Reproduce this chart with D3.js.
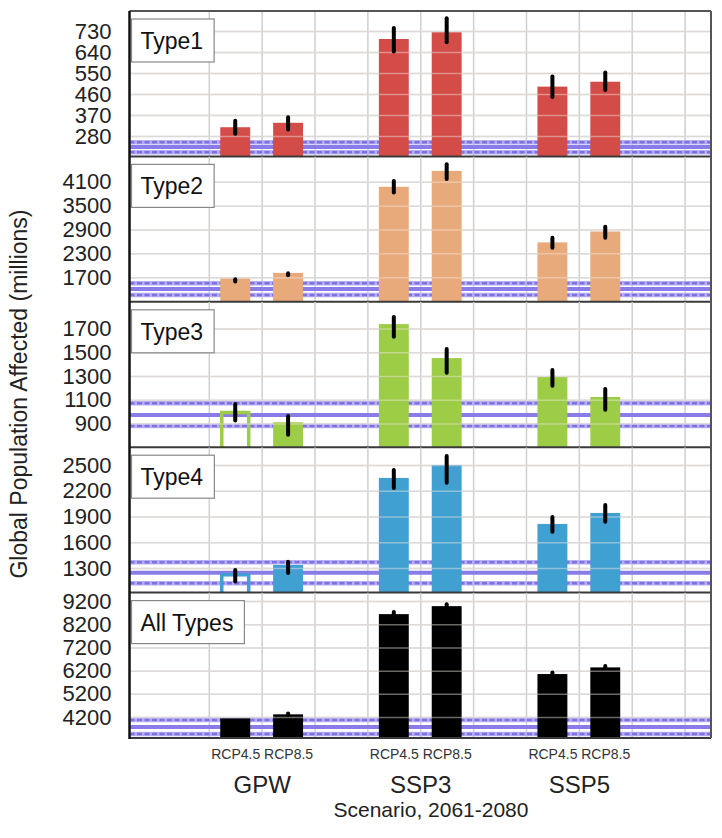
<!DOCTYPE html>
<html>
<head>
<meta charset="utf-8">
<script src="https://cdn.jsdelivr.net/npm/d3@7"></script>
<style>
  html, body { margin: 0; padding: 0; background: #fff; }
  svg { display: block; font-family: "Liberation Sans", Arial, Helvetica, sans-serif; }
</style>
</head>
<body>
<svg id="chart" width="722" height="838"></svg>
<script>
// ---------- DATA ----------
const scenarios = ["GPW", "SSP3", "SSP5"];
const rcps = ["RCP4.5", "RCP8.5"];
const types = ["Type1", "Type2", "Type3", "Type4", "All Types"];

const yTicks1 = [280, 370, 460, 550, 640, 730];
const yTicks2 = [1700, 2300, 2900, 3500, 4100];
const yTicks3 = [900, 1100, 1300, 1500, 1700];
const yTicks4 = [1300, 1600, 1900, 2200, 2500];
const yTicks5 = [4200, 5200, 6200, 7200, 8200, 9200];

const yDomain1 = [193, 816];
const yDomain2 = [1080, 4740];
const yDomain3 = [700, 1925];
const yDomain4 = [1013, 2707];
const yDomain5 = [3300, 9560];

// order: GPW RCP4.5, GPW RCP8.5, SSP3 RCP4.5, SSP3 RCP8.5, SSP5 RCP4.5, SSP5 RCP8.5
const type1Values = [318, 337, 696, 725, 492, 513];
const type1ErrLo  = [290, 308, 642, 682, 448, 478];
const type1ErrHi  = [346, 361, 743, 785, 535, 553];

const type2Values = [1667, 1808, 3975, 4375, 2575, 2850];
const type2ErrLo  = [1590, 1750, 3830, 4170, 2440, 2690];
const type2ErrHi  = [1650, 1800, 4120, 4540, 2690, 2970];

const type3Values = [1005, 910, 1737, 1451, 1291, 1123];
const type3ErrLo  = [925, 805, 1630, 1328, 1218, 1015];
const type3ErrHi  = [1064, 963, 1796, 1527, 1350, 1190];

const type4Values = [1238, 1335, 2349, 2500, 1813, 1941];
const type4ErrLo  = [1142, 1240, 2232, 2292, 1722, 1837];
const type4ErrHi  = [1276, 1373, 2440, 2605, 1895, 2033];

const allValues = [4147, 4319, 8633, 8977, 6053, 6340];
const allErrLo  = [4147, 4300, 8590, 8930, 6030, 6310];
const allErrHi  = [4147, 4360, 8720, 9060, 6120, 6400];

// hollow = outline-only bars
const type3Hollow = [true, false, false, false, false, false];
const type4Hollow = [true, false, false, false, false, false];

// baseline band lines: [lower (dashed), mean (solid), upper (dashed)]
const band1 = [211, 233, 254];
const band2 = [1250, 1400, 1550];
const band3 = [879, 972, 1070];
const band4 = [1122, 1245, 1366];
const band5 = [3470, 3770, 4071];

const colors = ["#d44c47", "#e9aa7b", "#9dcc47", "#41a0d2", "#000000"];

// ---------- BUILD ----------
(function () {
const panels = [
  {name: types[0], ticks: yTicks1, domain: yDomain1, vals: type1Values, lo: type1ErrLo, hi: type1ErrHi, hollow: null, band: band1},
  {name: types[1], ticks: yTicks2, domain: yDomain2, vals: type2Values, lo: type2ErrLo, hi: type2ErrHi, hollow: null, band: band2},
  {name: types[2], ticks: yTicks3, domain: yDomain3, vals: type3Values, lo: type3ErrLo, hi: type3ErrHi, hollow: type3Hollow, band: band3},
  {name: types[3], ticks: yTicks4, domain: yDomain4, vals: type4Values, lo: type4ErrLo, hi: type4ErrHi, hollow: type4Hollow, band: band4},
  {name: types[4], ticks: yTicks5, domain: yDomain5, vals: allValues, lo: allErrLo, hi: allErrHi, hollow: null, band: band5}
];

const svg = d3.select("#chart");
const pLeft = 129.5, pRight = 711, pTop = 11, pBottom = 738;
const panelH = (pBottom - pTop) / panels.length;
const width = pRight - pLeft;
const FONT = "'Liberation Sans', Arial, Helvetica, sans-serif";

const barPos = [2, 3, 5, 6, 8, 9];
const groupPos = [2.5, 5.5, 8.5];
const barLabels = barPos.map((d, i) => rcps[i % 2]);
const x = d3.scaleLinear().domain([0, 11]).range([pLeft, pRight]);
const halfW = 0.283;
const vGrid = d3.range(1.5, 11, 1);

panels.forEach((p, pi) => {
  const y0 = pTop + pi * panelH, y1 = y0 + panelH;
  const y = d3.scaleLinear().domain(p.domain).range([y1, y0]);
  const g = svg.append("g");
  const clipId = "clip" + pi;
  svg.append("clipPath").attr("id", clipId).append("rect")
    .attr("x", pLeft).attr("y", y0).attr("width", width).attr("height", panelH);
  const inner = g.append("g").attr("clip-path", `url(#${clipId})`);

  // vertical grid
  inner.append("g").attr("transform", `translate(0,${y1})`)
    .call(d3.axisBottom(x).tickValues(vGrid).tickSize(-panelH).tickFormat(""))
    .call(a => a.select(".domain").remove())
    .call(a => a.selectAll("line").attr("stroke", "#cfcfcf").attr("stroke-width", 1.5));
  // horizontal grid (under)
  inner.append("g").attr("transform", `translate(${pLeft},0)`)
    .call(d3.axisLeft(y).tickValues(p.ticks).tickSize(-width).tickFormat(""))
    .call(a => a.select(".domain").remove())
    .call(a => a.selectAll("line").attr("stroke", "#cfcfcf").attr("stroke-width", 1.5));

  // baseline band
  const bandG = inner.append("g");
  [0, 2].forEach(k => {
    bandG.append("line").attr("x1", pLeft).attr("x2", pRight)
      .attr("y1", y(p.band[k])).attr("y2", y(p.band[k]))
      .attr("stroke", "#b7aff3").attr("stroke-width", 4.5);
    bandG.append("line").attr("x1", pLeft).attr("x2", pRight)
      .attr("y1", y(p.band[k])).attr("y2", y(p.band[k]))
      .attr("stroke", "#7f71e3").attr("stroke-width", 2.5)
      .attr("stroke-dasharray", "5,2.5");
  });
  bandG.append("line").attr("x1", pLeft).attr("x2", pRight)
    .attr("y1", y(p.band[1])).attr("y2", y(p.band[1]))
    .attr("stroke", "#8a7ce8").attr("stroke-width", 4);

  // bars
  const data = p.vals.map((v, i) => ({v, lo: p.lo[i], hi: p.hi[i], pos: barPos[i], hollow: p.hollow ? p.hollow[i] : false}));
  const col = colors[pi];
  inner.selectAll("rect.bar").data(data).join("rect")
    .attr("class", "bar")
    .attr("x", d => x(d.pos - halfW) + (d.hollow ? 1.5 : 0))
    .attr("width", d => x(d.pos + halfW) - x(d.pos - halfW) - (d.hollow ? 3 : 0))
    .attr("y", d => y(d.v) + (d.hollow ? 1.5 : 0))
    .attr("height", d => y1 - y(d.v) + 2)
    .attr("fill", d => d.hollow ? "none" : col)
    .attr("stroke", d => d.hollow ? col : "none")
    .attr("stroke-width", 3.5);

  // horizontal grid (over bars, faint)
  inner.append("g").attr("transform", `translate(${pLeft},0)`)
    .call(d3.axisLeft(y).tickValues(p.ticks).tickSize(-width).tickFormat(""))
    .call(a => a.select(".domain").remove())
    .call(a => a.selectAll("line").attr("stroke", "#f0e6e0").attr("stroke-opacity", 0.45).attr("stroke-width", 1.5));

  // error bars
  inner.selectAll("line.err").data(data.filter(d => d.hi > d.lo)).join("line")
    .attr("class", "err")
    .attr("x1", d => x(d.pos)).attr("x2", d => x(d.pos))
    .attr("y1", d => y(d.lo)).attr("y2", d => y(d.hi))
    .attr("stroke", "#000").attr("stroke-width", 4).attr("stroke-linecap", "round");

  // y axis labels
  g.append("g").attr("transform", `translate(${pLeft},0)`)
    .call(d3.axisLeft(y).tickValues(p.ticks).tickFormat(d3.format("d")).tickSize(0).tickPadding(18))
    .call(a => a.select(".domain").remove())
    .call(a => a.selectAll("text").attr("font-size", 22).attr("fill", "#222")
      .attr("font-family", FONT));

  // panel separator
  g.append("line").attr("x1", pLeft).attr("x2", pRight).attr("y1", y1).attr("y2", y1)
    .attr("stroke", "#3a3a3a").attr("stroke-width", 2);

  // type label box
  const lg = g.append("g");
  const box = lg.append("rect").attr("x", pLeft + 2).attr("y", y0 + 8).attr("height", 43)
    .attr("fill", "#fff").attr("stroke", "#888").attr("stroke-width", 1.2);
  const lbl = lg.append("text").attr("x", pLeft + 11).attr("y", y0 + 38)
    .attr("font-size", 23).attr("font-family", FONT).attr("fill", "#111").text(p.name);
  const bb = lbl.node().getBBox();
  box.attr("width", bb.x + bb.width + 11 - (pLeft + 2));
});

// outer frame
svg.append("line").attr("x1", pLeft).attr("x2", pRight).attr("y1", pTop).attr("y2", pTop)
  .attr("stroke", "#555").attr("stroke-width", 2);
svg.append("line").attr("x1", pRight).attr("x2", pRight).attr("y1", pTop).attr("y2", pBottom)
  .attr("stroke", "#555").attr("stroke-width", 2);
svg.append("line").attr("x1", pLeft).attr("x2", pLeft).attr("y1", pTop).attr("y2", pBottom + 1)
  .attr("stroke", "#111").attr("stroke-width", 2.5);

// x axis: bar labels
svg.append("g").attr("transform", `translate(0,${pBottom})`)
  .call(d3.axisBottom(x).tickValues(barPos).tickFormat((d, i) => barLabels[i]).tickSize(0).tickPadding(11))
  .call(a => a.select(".domain").remove())
  .call(a => a.selectAll("text").attr("font-size", 14).attr("fill", "#333")
    .attr("font-family", FONT));
// x axis: scenario labels
svg.append("g").attr("transform", `translate(0,${pBottom})`)
  .call(d3.axisBottom(x).tickValues(groupPos).tickFormat((d, i) => scenarios[i]).tickSize(0).tickPadding(38))
  .call(a => a.select(".domain").remove())
  .call(a => a.selectAll("text").attr("font-size", 24).attr("fill", "#222")
    .attr("font-family", FONT));

// axis titles
svg.append("text").attr("x", 431).attr("y", 817).attr("text-anchor", "middle")
  .attr("font-size", 21).attr("font-family", FONT).attr("fill", "#222").text("Scenario, 2061-2080");
svg.append("text").attr("transform", "translate(27,394) rotate(-90)").attr("text-anchor", "middle")
  .attr("font-size", 23).attr("font-family", FONT).attr("fill", "#222").text("Global Population Affected (millions)");
})();
</script>
</body>
</html>
